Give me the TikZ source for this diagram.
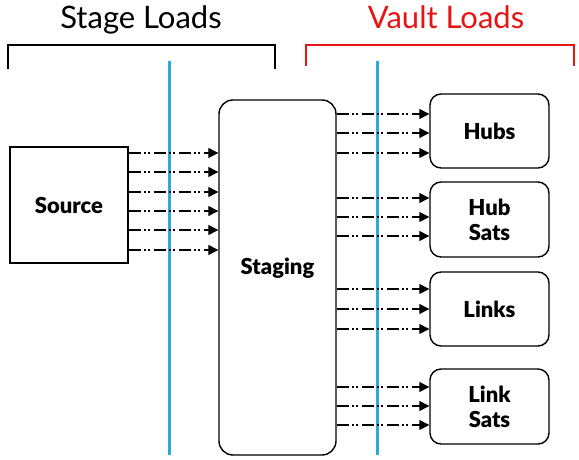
\documentclass[tikz,border=0pt]{standalone}
\usepackage{fontspec}
\setmainfont{Lato}[BoldFont={Lato Black}]
\usetikzlibrary{arrows.meta}
\definecolor{vblue}{RGB}{46,169,223}
\definecolor{vred}{RGB}{232,20,20}
\tikzset{
  box/.style={draw=black, line width=1.4pt, fill=white, align=center, inner sep=0pt},
  rbox/.style={box, rounded corners=11pt},
  lbl/.style={font=\bfseries\fontsize{22}{25}\selectfont, align=center, inner sep=0pt},
  flow/.style={line width=1.3pt, dash pattern=on 12pt off 3.5pt on 1.5pt off 2.5pt on 1.5pt off 4pt, -{Triangle[length=10pt,width=10pt]}},
  sep/.style={draw=vblue, line width=3pt},
  brk/.style={line width=2.6pt},
  title/.style={font=\fontsize{31}{33}\selectfont, anchor=base}
}
\begin{document}
\begin{tikzpicture}[x=1pt,y=-1pt]
\useasboundingbox (0,0) rectangle (579,460);
% titles
\node[title] (tst) at (141,29) {Stage Loads};
\node[title, text=vred] (tvt) at (446,29) {Vault Loads};
% brackets
\draw[brk, line cap=rect] (8,68) -- (8,45) -- (275,45) -- (275,68);
\draw[brk, vred, line cap=rect] (306,65) -- (306,45) -- (574,45) -- (574,65);
% separators
\draw[sep] (169,61) -- (169,455);
\draw[sep] (377,61) -- (377,455);
% boxes
\node[box, minimum width=118pt, minimum height=116pt] (src) at (69,205) {};
\node[lbl] (srcl) at (src.center) {Source};
\node[rbox, minimum width=117pt, minimum height=355pt, rounded corners=14pt] (stg) at (277.5,277.5) {};
\node[lbl] (stgl) at (277.5,268) {Staging};
\node[rbox, minimum width=119pt, minimum height=74pt] (hubs) at (489.5,131) {};
\node[lbl] (hubsl) at (hubs.center) {Hubs};
\node[rbox, minimum width=119pt, minimum height=75pt] (hsat) at (489.5,219.5) {};
\node[lbl] (hsatl) at (hsat.center) {Hub\\Sats};
\node[rbox, minimum width=119pt, minimum height=74pt] (lnk) at (489.5,309) {};
\node[lbl] (lnkl) at (lnk.center) {Links};
\node[rbox, minimum width=119pt, minimum height=75pt] (lsat) at (489.5,406.5) {};
\node[lbl] (lsatl) at (lsat.center) {Link\\Sats};
% source -> staging
\foreach \y in {153,172,192,211,230,250}
  \draw[flow] (src.east |- 0,\y) -- (stg.west |- 0,\y);
% staging -> hubs
\foreach \y in {114,133,153}
  \draw[flow] (stg.east |- 0,\y) -- (hubs.west |- 0,\y);
\foreach \y in {198,217,236}
  \draw[flow] (stg.east |- 0,\y) -- (hsat.west |- 0,\y);
\foreach \y in {289,309,329}
  \draw[flow] (stg.east |- 0,\y) -- (lnk.west |- 0,\y);
\foreach \y in {387,406,425}
  \draw[flow] (stg.east |- 0,\y) -- (lsat.west |- 0,\y);
\end{tikzpicture}
\end{document}
